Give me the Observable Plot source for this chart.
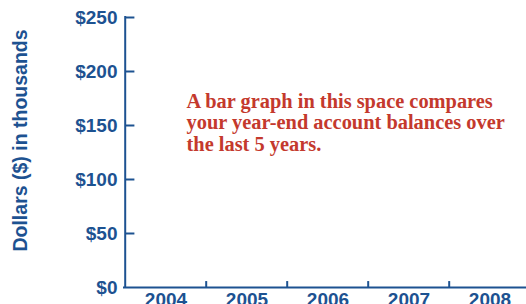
<!DOCTYPE html>
<html><head><meta charset="utf-8">
<script src="https://cdn.jsdelivr.net/npm/d3@7"></script>
<script src="https://cdn.jsdelivr.net/npm/@observablehq/plot@0.6"></script>
<style>html,body{margin:0;padding:0;background:#fff;overflow:hidden}</style>
</head><body><div id="chart"></div>
<script>
const years = ["2004", "2005", "2006", "2007", "2008"];
const yTicks = [0, 50, 100, 150, 200, 250];
const yTickLabels = ["$0", "$50", "$100", "$150", "$200", "$250"];
const yLabel = "Dollars ($) in thousands";
const noteLines = ["A bar graph in this space compares", "your year-end account balances over", "the last 5 years."];

const blue = "#1d5291", red = "#c4392d";
const bw = 408 / years.length;

const chart = Plot.plot({
  width: 526, height: 304,
  marginLeft: 123, marginRight: 0, marginTop: 17, marginBottom: 17,
  style: {fontFamily: '"Liberation Sans", Arial, sans-serif', fontSize: "19px", fontWeight: "bold", color: blue, background: "#fff", overflow: "visible"},
  x: {domain: years, range: [123, 531], padding: 0, align: 0.5},
  y: {domain: [0, 250]},
  marks: [
    Plot.axisY(yTicks, {tickSize: 0, tickPadding: 6, tickFormat: d => yTickLabels[yTicks.indexOf(d)], label: null}),
    Plot.tickY(yTicks.slice(1), {y: d => d, x: () => years[0], insetRight: bw - 10, stroke: blue, strokeWidth: 2}),
    Plot.axisX({tickSize: 0, tickPadding: 5, label: null}),
    Plot.ruleX(years.slice(1), {x: d => d, dx: -bw / 2, y1: 0, y2: 5.5, stroke: blue, strokeWidth: 2}),
    Plot.ruleX([years[0]], {x: d => d, dx: -bw / 2, y1: 0, y2: 250, stroke: blue, strokeWidth: 2, strokeLinecap: "square"}),
    Plot.ruleY([0], {stroke: blue, strokeWidth: 2}),
    Plot.text([yLabel], {frameAnchor: "left", dx: -103, dy: -12, rotate: -90, textAnchor: "middle", fontSize: 19.5, fill: blue}),
    Plot.text([noteLines.join("\n")], {frameAnchor: "top-left", dx: 63, dy: 75, textAnchor: "start", lineAnchor: "top", lineHeight: 1.05, fill: red, fontSize: 20.4, fontFamily: '"Liberation Serif", "Times New Roman", serif', fontWeight: "bold"})
  ]
});
document.getElementById("chart").appendChild(chart);
</script>
</body></html>
